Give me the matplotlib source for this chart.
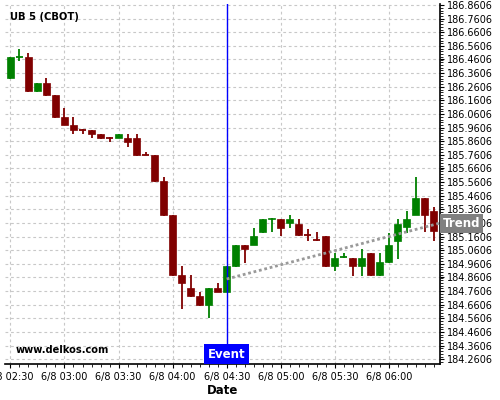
import matplotlib
matplotlib.use("Agg")
import matplotlib.pyplot as plt
import matplotlib.dates as mdates
import matplotlib.ticker as mticker
import pandas as pd
import numpy as np

# ---- data ----
start_time = "2023-06-08 02:30"
bar_minutes = 5
opens = [186.327, 186.478, 186.479, 186.231, 186.288, 186.200, 186.038, 185.982,
         185.946, 185.943, 185.913, 185.888, 185.886, 185.884, 185.884, 185.764,
         185.761, 185.571, 185.321, 184.878, 184.783, 184.724, 184.658, 184.785,
         184.756, 184.944, 185.099, 185.099, 185.194, 185.288, 185.289, 185.258,
         185.253, 185.172, 185.136, 185.165, 184.947, 185.006, 185.003, 184.947,
         185.040, 184.880, 184.974, 185.130, 185.228, 185.321, 185.441, 185.346]
closes = [186.479, 186.482, 186.231, 186.288, 186.200, 186.038, 185.982, 185.945,
          185.943, 185.916, 185.886, 185.886, 185.913, 185.857, 185.761, 185.761,
          185.571, 185.321, 184.878, 184.822, 184.724, 184.658, 184.783, 184.756,
          184.944, 185.099, 185.069, 185.165, 185.289, 185.294, 185.226, 185.289,
          185.170, 185.170, 185.134, 184.947, 185.003, 185.010, 184.947, 185.003,
          184.880, 184.974, 185.096, 185.253, 185.289, 185.441, 185.321, 185.199]
highs = [186.479, 186.535, 186.506, 186.290, 186.325, 186.200, 186.102, 186.036,
         185.947, 185.945, 185.913, 185.890, 185.915, 185.911, 185.911, 185.784,
         185.761, 185.598, 185.321, 184.944, 184.876, 184.751, 184.783, 184.820,
         184.944, 185.099, 185.100, 185.221, 185.292, 185.296, 185.292, 185.319,
         185.287, 185.214, 185.192, 185.165, 185.038, 185.040, 185.003, 185.067,
         185.040, 185.038, 185.189, 185.287, 185.346, 185.600, 185.441, 185.375]
lows = [186.321, 186.447, 186.224, 186.224, 186.193, 186.031, 185.976, 185.911,
        185.911, 185.882, 185.879, 185.852, 185.884, 185.816, 185.754, 185.757,
        185.563, 185.314, 184.871, 184.626, 184.717, 184.652, 184.565, 184.750,
        184.756, 184.937, 184.968, 185.095, 185.187, 185.192, 185.165, 185.226,
        185.163, 185.128, 185.130, 184.937, 184.905, 185.000, 184.873, 184.873,
        184.873, 184.873, 184.970, 184.998, 185.189, 185.320, 185.194, 185.128]
event_time = "2023-06-08 04:30"
trend_times = ["2023-06-08 04:30", "2023-06-08 06:25"]
trend_values = [184.849, 185.248]
title_text = "UB 5 (CBOT)"
y_ticks = [184.2606 + 0.1 * i for i in range(27)]

# ---- plot ----
times = pd.date_range(start_time, periods=len(opens), freq=f"{bar_minutes}min")
x = mdates.date2num(times.to_pydatetime())
bw = (bar_minutes / (24 * 60))

fig = plt.figure(figsize=(5, 4), dpi=100)
ax = fig.add_axes([0.01, 0.09, 0.87, 0.90])

green = "#008000"
red = "#800000"
for xi, o, c, h, l in zip(x, opens, closes, highs, lows):
    col = green if c >= o else red
    ax.vlines(xi, l, h, color=col, linewidth=1.3, zorder=3)
    bottom = min(o, c)
    height = abs(c - o)
    if height < 0.004:
        ax.hlines((o + c) / 2, xi - bw * 0.4, xi + bw * 0.4, color=col, linewidth=1.3, zorder=3)
    else:
        ax.bar(xi, height, bottom=bottom, width=bw * 0.78, color=col, edgecolor=col,
               linewidth=0.5, zorder=3)

ex = mdates.date2num(pd.Timestamp(event_time).to_pydatetime())
ax.axvline(ex, color="#0000ff", linewidth=1.0, zorder=4)

tx = mdates.date2num(pd.to_datetime(trend_times).to_pydatetime())
x_right = x[-1] + bw * 0.67
slope = (trend_values[1] - trend_values[0]) / (tx[1] - tx[0])
tx_end = [tx[0], x_right]
ty_end = [trend_values[0], trend_values[0] + slope * (x_right - tx[0])]
ax.plot(tx_end, ty_end, color="#999999", linestyle=(0, (1, 1)), linewidth=2.0, zorder=5)

ax.set_xlim(x[0] - bw * 0.6, x_right)
ax.set_ylim(184.225, 186.868)

ax.xaxis.set_major_locator(mdates.MinuteLocator(byminute=[0, 30]))
ax.xaxis.set_minor_locator(mdates.MinuteLocator(byminute=range(0, 60, 5)))
ax.xaxis.set_major_formatter(mticker.FuncFormatter(
    lambda v, p: (lambda d: f"{d.month}/{d.day} {d:%H:%M}")(mdates.num2date(v))))

ax.yaxis.tick_right()
ax.set_yticks(y_ticks)
ax.yaxis.set_minor_locator(mticker.MultipleLocator(0.02))
ax.yaxis.set_major_formatter(mticker.FormatStrFormatter("%.4f"))

ax.tick_params(axis="both", which="major", labelsize=7, length=3, width=0.8, pad=2)
ax.tick_params(axis="x", which="major", pad=3)
ax.tick_params(axis="both", which="minor", length=2, width=0.6)
for s in ["top", "left"]:
    ax.spines[s].set_visible(False)
for s in ["right", "bottom"]:
    ax.spines[s].set_linewidth(1.2)

ax.grid(True, which="major", color="#c8c8c8", linestyle=(0, (2.5, 2.5)), linewidth=0.8)
ax.set_axisbelow(True)

ax.set_xlabel("Date", fontsize=8.5, fontweight="bold", labelpad=1)

ax.text(0.012, 0.978, title_text, transform=ax.transAxes, fontsize=7.2,
        fontweight="bold", va="top", ha="left")
ax.text(0.025, 0.025, "www.delkos.com", transform=ax.transAxes, fontsize=7.1,
        fontweight="bold", va="bottom", ha="left")

ax.annotate("Event", xy=(ex, 0), xycoords=("data", "axes fraction"),
            xytext=(0, 2.5), textcoords="offset points",
            ha="center", va="bottom", fontsize=8.5, fontweight="bold", color="white",
            bbox=dict(boxstyle="square,pad=0.3", fc="#0000ff", ec="none"), zorder=6)

ax.annotate("Trend", xy=(1.0, ty_end[1]), xycoords=("axes fraction", "data"),
            xytext=(2, 0), textcoords="offset points",
            ha="left", va="center", fontsize=8.5, fontweight="bold", color="white",
            bbox=dict(boxstyle="square,pad=0.25", fc="#808080", ec="none"), zorder=6,
            annotation_clip=False)

fig.savefig("out.png", dpi=100)
